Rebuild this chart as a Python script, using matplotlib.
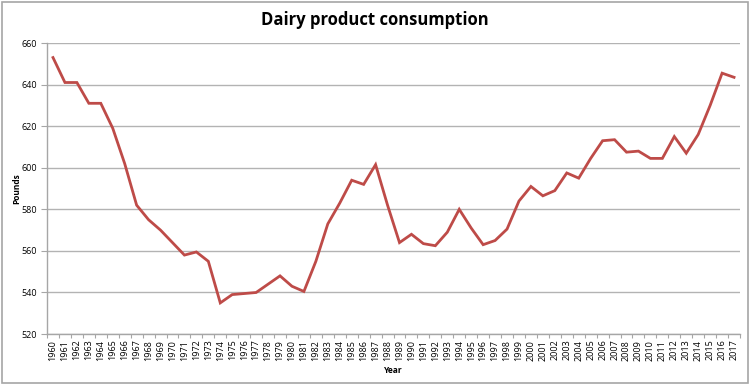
import matplotlib
matplotlib.use("Agg")
import matplotlib.pyplot as plt
from matplotlib.patches import Rectangle
import numpy as np

years = list(range(1960, 2018))
pounds = [653, 641, 641, 631, 631, 619, 602, 582, 575, 570,
          564, 558, 559.5, 555, 535, 539, 539.5, 540, 544, 548,
          543, 540.5, 555, 573, 583, 594, 592, 601.5, 582, 564,
          568, 563.5, 562.5, 569, 580, 571, 563, 565, 570.5, 584,
          591, 586.5, 589, 597.5, 595, 604.5, 613, 613.5, 607.5, 608,
          604.5, 604.5, 615, 607, 616, 630, 645.5, 643.5]
yticks = [520, 540, 560, 580, 600, 620, 640, 660]

plt.rcParams['font.family'] = ['Open Sans', 'DejaVu Sans']

fig = plt.figure(figsize=(7.5, 3.84), dpi=100)
fig.patches.append(Rectangle((0.002, 0.003), 0.995, 0.993, transform=fig.transFigure,
                             fill=False, edgecolor='#A6A6A6', linewidth=1.2))
ax = fig.add_axes([0.0627, 0.130, 0.924, 0.758])

x = np.arange(len(years))
ax.plot(x, pounds, color='#BE4B48', linewidth=2.0, solid_joinstyle='miter')

ax.set_xlim(-0.5, len(years) - 0.5)
ax.set_ylim(520, 660)
ax.set_yticks(yticks)
ax.set_yticklabels([str(v) for v in yticks], fontsize=6.5)
ax.yaxis.grid(True, color='#B3B3B3', linewidth=1.0)
ax.set_axisbelow(True)

ax.set_xticks(x)
ax.set_xticklabels([str(y) for y in years], rotation=90, fontsize=6.5)
ax.set_xticks(np.arange(-0.5, len(years), 1.0), minor=True)
ax.tick_params(axis='x', which='major', length=0, pad=4)
ax.tick_params(axis='x', which='minor', length=3, color='#A6A6A6', width=0.8)
ax.tick_params(axis='y', which='major', length=4, color='#A6A6A6', width=0.8, pad=3)

for s in ['top', 'right']:
    ax.spines[s].set_visible(False)
for s in ['left', 'bottom']:
    ax.spines[s].set_color('#A6A6A6')
    ax.spines[s].set_linewidth(1.0)

fig.text(0.5, 1 - 20 / 384, 'Dairy product consumption', fontsize=12, fontweight='bold',
         ha='center', va='center')
ax.set_ylabel('Pounds', fontsize=6, fontweight='bold')
ax.yaxis.set_label_coords(-0.0375, 0.5)
ax.set_xlabel('Year', fontsize=6, fontweight='bold', labelpad=4)

fig.savefig('out.png', dpi=100)
